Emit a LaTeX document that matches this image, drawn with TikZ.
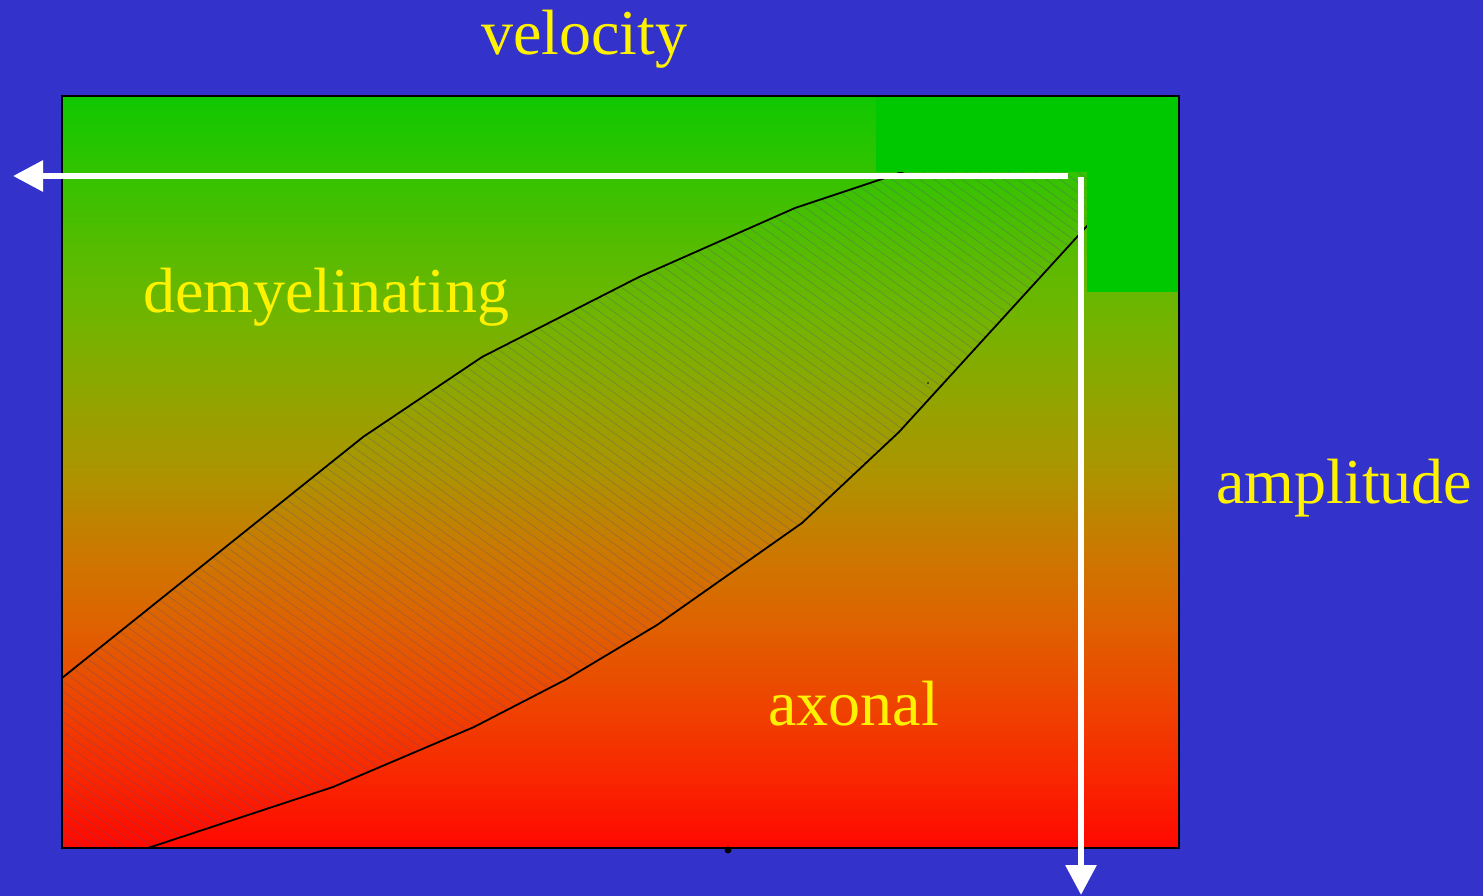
\documentclass[tikz,border=0pt]{standalone}
\usepackage{fontspec}
\setmainfont{Liberation Serif}
\usetikzlibrary{arrows.meta}
\definecolor{bgblue}{RGB}{51,51,204}
\definecolor{blockgreen}{RGB}{0,200,0}
\definecolor{hatchcol}{RGB}{80,80,150}
\definecolor{sgA}{RGB}{15,200,0}
\definecolor{sgB}{RGB}{50,195,0}
\definecolor{sgC}{RGB}{85,188,0}
\definecolor{sgD}{RGB}{115,180,0}
\definecolor{sgE}{RGB}{145,165,0}
\definecolor{sgF}{RGB}{172,148,0}
\definecolor{sgG}{RGB}{202,122,0}
\definecolor{sgH}{RGB}{222,98,0}
\definecolor{sgI}{RGB}{237,70,0}
\definecolor{sgJ}{RGB}{248,40,0}
\definecolor{sgK}{RGB}{255,8,0}
\pgfdeclareverticalshading{rygrad}{100bp}{color(0bp)=(sgK); color(25bp)=(sgK); color(30bp)=(sgJ); color(35bp)=(sgI); color(40bp)=(sgH); color(45bp)=(sgG); color(50bp)=(sgF); color(55bp)=(sgE); color(60bp)=(sgD); color(65bp)=(sgC); color(70bp)=(sgB); color(75bp)=(sgA); color(100bp)=(sgA)}
\begin{document}
\begin{tikzpicture}[x=1pt,y=-1pt,
  lbl/.style={text=yellow, font=\fontsize{64}{64}\selectfont, inner sep=0pt, anchor=base west},
  curve/.style={draw=black, line width=1.8pt, line join=round},
  hatchline/.style={draw=hatchcol, draw opacity=0.35, line width=0.7pt},
  whitearrow/.style={draw=white, line width=6pt, -{Triangle[length=30pt,width=30pt]}},
  frame/.style={draw=black, line width=2pt}]
\useasboundingbox (0,0) rectangle (1483,896);
\fill[bgblue] (0,0) rectangle (1483,896);
% gradient panel
\shade[shading=rygrad] (62,96) rectangle (1179,848);
% hatched band
\begin{scope}
  \clip (62,678) -- (363,437) -- (482,357) -- (639,277) -- (795,208) -- (882,179) -- (1118,96)
     -- (1179,96) -- (1179,160) -- (1087,226) -- (899,432) -- (802,523) -- (657,625)
     -- (565,680) -- (474,727) -- (333,787) -- (148,848) -- (62,848) -- cycle;
  \foreach \c in {-1100,-1086,...,1190} {
    \draw[hatchline] (\c,96) -- ++(1100,792);
  }
\end{scope}
% boundary curves
\draw[curve] (62,678) -- (363,437) -- (482,357) -- (639,277) -- (795,208) -- (882,179) -- (1118,96);
\draw[curve] (148,848) -- (333,787) -- (474,727) -- (565,680) -- (657,625) -- (802,523) -- (899,432) -- (1087,226) -- (1140,168);
% bright green block top right
\fill[blockgreen] (876,96) rectangle (1179,172);
\fill[blockgreen] (1087,96) rectangle (1179,292);
% small marks
\fill[black] (728,850) circle (3.5pt);
\fill[black] (928,383) circle (0.8pt);
% frame
\draw[frame] (62,96) rectangle (1179,848);
% axes arrows
\coordinate (hstart) at (1068,176);
\coordinate (htip) at (13,176);
\coordinate (vstart) at (1081,177);
\coordinate (vtip) at (1081,895);
\draw[whitearrow] (hstart) -- (htip);
\draw[whitearrow] (vstart) -- (vtip);
% labels
\node[lbl] (velocity) at (481,55) {velocity};
\node[lbl] (demyel) at (143,312) {demyelinating};
\node[lbl] (amplitude) at (1216,503) {amplitude};
\node[lbl] (axonal) at (768,725) {axonal};
\end{tikzpicture}
\end{document}
